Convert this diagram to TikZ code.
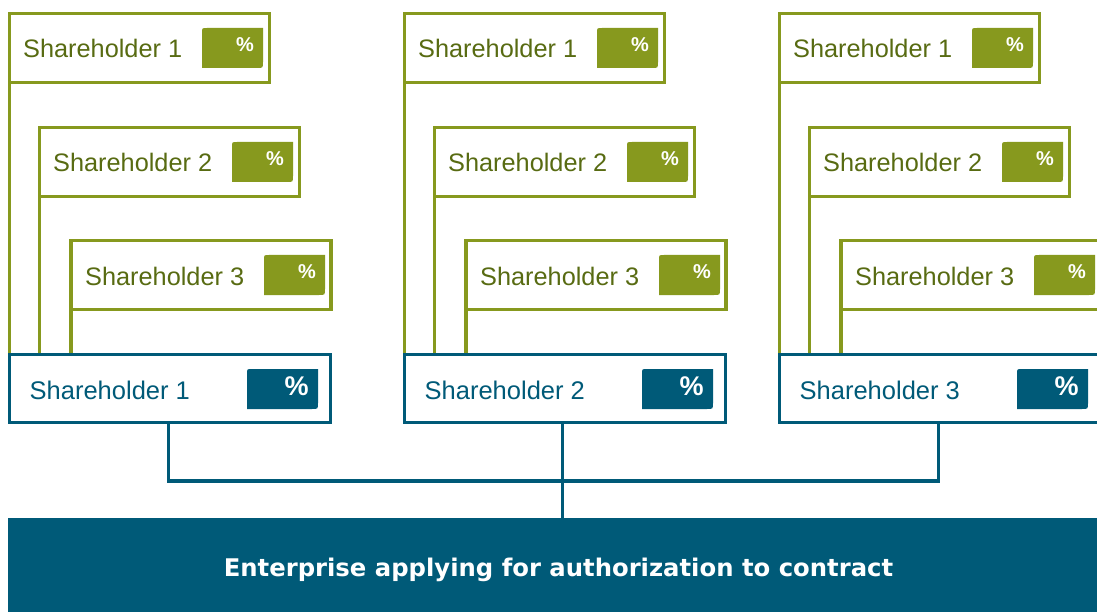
\documentclass[tikz,border=0pt]{standalone}
\usepackage{fontspec}
\setmainfont{Liberation Sans}
\newfontfamily\entfont{DejaVu Sans}
\usetikzlibrary{calc}
\definecolor{gr}{HTML}{87991E}
\definecolor{grtext}{HTML}{586B12}
\definecolor{bl}{HTML}{005A78}
\newcommand\tabshape[5]{%
  \fill[#1] (#2,#5) -- (#2,#3+5) .. controls (#2,#3) .. (#2+5,#3) -- (#4,#3)
    -- (#4,#5-6) .. controls (#4,#5) .. (#4-6,#5) -- cycle;}
\begin{document}
\begin{tikzpicture}[x=1pt,y=-1pt,
  gbox/.style={draw=gr, line width=3.2pt, fill=white, minimum width=260pt,
    minimum height=69pt, anchor=north west, inner sep=0pt, outer sep=0pt},
  bbox/.style={draw=bl, line width=3.2pt, fill=white, minimum width=321pt,
    minimum height=68pt, anchor=north west, inner sep=0pt, outer sep=0pt},
  gline/.style={draw=gr, line width=3.2pt},
  bline/.style={draw=bl, line width=3.2pt},
  gtext/.style={text=grtext, font=\fontsize{25.3}{30}\selectfont, inner sep=0pt, anchor=base west},
  btext/.style={text=bl, font=\fontsize{25.5}{30}\selectfont, inner sep=0pt, anchor=base west},
  gpct/.style={text=white, font=\bfseries\fontsize{20}{24}\selectfont, inner sep=0pt, anchor=base},
  bpct/.style={text=white, font=\bfseries\fontsize{27}{30}\selectfont, inner sep=0pt, anchor=base},
  entbox/.style={fill=bl, minimum width=1101pt, minimum height=104pt, anchor=north west,
    inner sep=0pt, outer sep=0pt, text=white, font=\entfont\bfseries\fontsize{24.3}{28}\selectfont}]
\clip (0,0) rectangle (1097,612);
\fill[white] (0,0) rectangle (1097,612);
\foreach \o/\n in {0/1,395/2,770/3} {
  \coordinate (bt-\n) at (\o+9.5,354.5);
  \node[gbox] (g1-\n) at (\o+9.5,13.5) {};
  \node[gbox] (g2-\n) at (\o+39.5,127.5) {};
  \node[gbox] (g3-\n) at (\o+71,240.5) {};
  \draw[gline] (g1-\n.south west) -- (g1-\n.south west |- bt-\n);
  \draw[gline] (g2-\n.south west) -- (g2-\n.south west |- bt-\n);
  \draw[gline] (g3-\n.south west) -- (g3-\n.south west |- bt-\n);
  \tabshape{gr}{\o+202}{28}{\o+263}{68}
  \tabshape{gr}{\o+232}{142}{\o+293}{182}
  \tabshape{gr}{\o+264}{255}{\o+325}{295}
  \node[gtext] (t1-\n) at (\o+23,58) {Shareholder 1};
  \node[gtext] (t2-\n) at (\o+53,172) {Shareholder 2};
  \node[gtext] (t3-\n) at (\o+85,285) {Shareholder 3};
  \node[gpct] (p1-\n) at (\o+245,52) {\%};
  \node[gpct] (p2-\n) at (\o+275,166) {\%};
  \node[gpct] (p3-\n) at (\o+307,279) {\%};
  \node[bbox] (b-\n) at (bt-\n) {};
  \tabshape{bl}{\o+247}{369}{\o+318}{409}
  \node[btext] (bt\n) at (\o+29.5,399) {Shareholder \n};
  \node[bpct] (bp-\n) at (\o+296.5,395) {\%};
}
\node[entbox] (ent) at (8,518) {Enterprise applying for authorization to contract};
\coordinate (hub) at (562.5,481);
\draw[bline] ([xshift=-1.5pt]b-1.south) |- (hub) -| ([xshift=-1.5pt]b-3.south);
\draw[bline] (b-2.south -| hub) -- (ent.north -| hub);
\end{tikzpicture}
\end{document}
